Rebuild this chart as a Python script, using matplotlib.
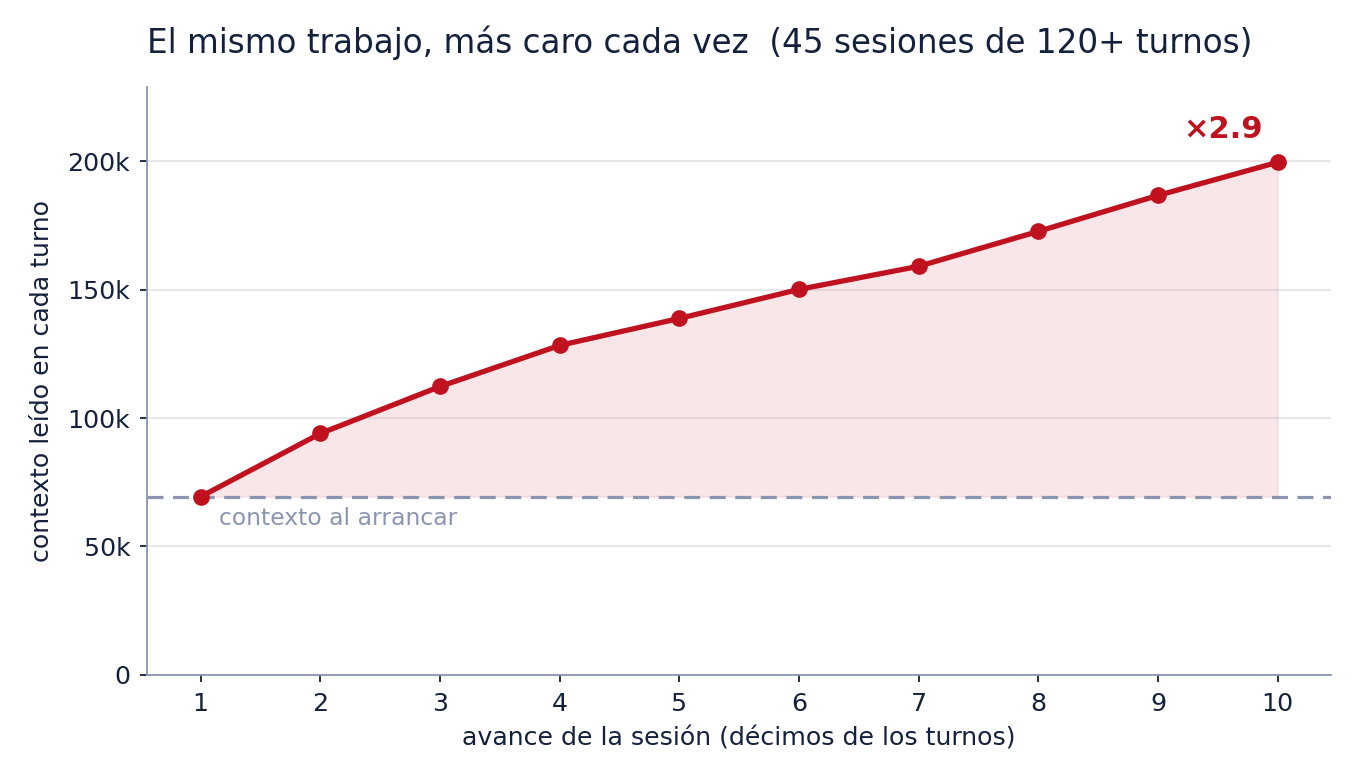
import matplotlib.pyplot as plt
import numpy as np

# session progress (tenths of turns) and context read per turn
deciles = [1, 2, 3, 4, 5, 6, 7, 8, 9, 10]
contexto = [69.4, 94.0, 112.3, 128.3, 138.8, 150.1, 159.1, 172.7, 186.7, 199.6]
contexto = [v * 1000 for v in contexto]
arranque = contexto[0]
yticks = [0, 50000, 100000, 150000, 200000]
ylabels = ["0", "50k", "100k", "150k", "200k"]

red = "#c0111f"
navy = "#14213d"
gray = "#8a96b0"

fig = plt.figure(figsize=(13.6, 7.82), dpi=100)
ax = fig.add_axes([0.108, 0.137, 0.871, 0.752])

ax.fill_between(deciles, arranque, contexto, color=red, alpha=0.1, lw=1)
ax.axhline(arranque, color=gray, ls=(0, (5, 3)), lw=2.3, zorder=2)
ax.plot(deciles, contexto, color=red, lw=3.8, marker="o", ms=11, zorder=3)

ax.text(1.15, arranque - 8500, "contexto al arrancar", color=gray, fontsize=16.9, va="center")
ratio = contexto[-1] / arranque
ax.text(9.54, 212500, f"×{ratio:.1f}", color=red, fontsize=22, fontweight="bold",
        ha="center", va="center")

ax.set_xlim(0.55, 10.45)
ax.set_ylim(0, 229000)
ax.set_xticks(deciles)
ax.set_yticks(yticks)
ax.set_yticklabels(ylabels)
ax.tick_params(colors=navy, labelsize=18.2, length=5, width=1.3, pad=7)
ax.grid(axis="y", color="#e6e6ea", lw=1.3)
ax.set_axisbelow(True)
for s in ["top", "right"]:
    ax.spines[s].set_visible(False)
for s in ["left", "bottom"]:
    ax.spines[s].set_color(gray)
    ax.spines[s].set_linewidth(1.3)

ax.set_xlabel("avance de la sesión (décimos de los turnos)", color=navy, fontsize=18.2, labelpad=8)
ax.set_ylabel("contexto leído en cada turno", color=navy, fontsize=18.2, labelpad=10)
fig.text(0.108, 0.945, "El mismo trabajo, más caro cada vez  (45 sesiones de 120+ turnos)",
         color=navy, fontsize=23.5, va="center", ha="left")

fig.savefig("out.png", dpi=100)
